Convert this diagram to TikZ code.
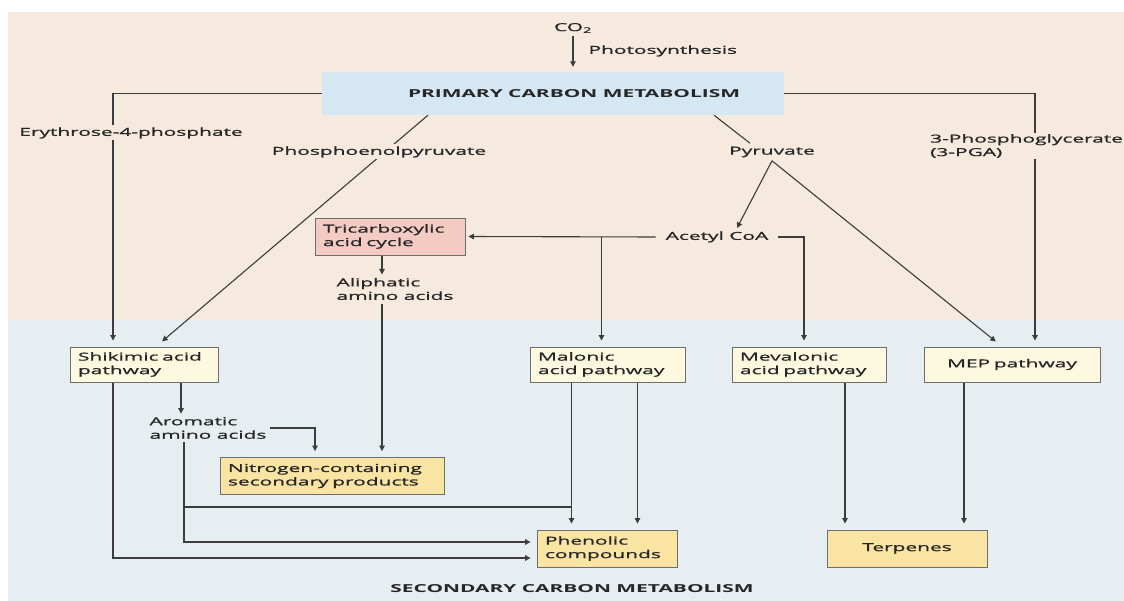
\documentclass[tikz,border=0pt]{standalone}
\usepackage{fontspec}
\setmainfont{Open Sans}[FakeStretch=1.9, UprightFeatures={FakeBold=1.2}]
\usetikzlibrary{arrows.meta,backgrounds}

\definecolor{peach}{HTML}{F6E9DD}
\definecolor{lowblue}{HTML}{E6EEF2}
\definecolor{primfill}{HTML}{D6E7F4}
\definecolor{cream}{HTML}{FDF8E0}
\definecolor{prodfill}{HTML}{F9E4A3}
\definecolor{tcafill}{HTML}{F3CBC2}
\definecolor{ink}{HTML}{3C3C3C}
\definecolor{edge}{HTML}{6E6E6E}
\definecolor{txt}{HTML}{262626}

\tikzset{
  every node/.style={font=\fontsize{11}{13.5}\selectfont, text=txt},
  line/.style={draw=ink, line width=1.1pt},
  tip/.style={-{Triangle[length=5.5pt,width=5.5pt]}},
  into/.style={tip, shorten >=6pt},
  pathbox/.style={draw=edge, fill=cream, line width=0.9pt, minimum height=35pt, inner xsep=8pt, align=left},
  prodbox/.style={pathbox, fill=prodfill, minimum height=37pt},
  heading/.style={font=\fontsize{11}{13.5}\selectfont\bfseries},
}

\begin{document}
\begin{tikzpicture}[x=1pt, y=-1pt]
\useasboundingbox (0,0) rectangle (1124,601);

% Primary metabolism
\node (co2) at (573,28) {CO\textsubscript{2}};
\node[anchor=west] (photo) at (585,51) {Photosynthesis};
\node[fill=primfill, minimum width=462pt, minimum height=43pt, heading] (prim) at (553,93.5) {\hspace*{42pt}PRIMARY CARBON METABOLISM};
\node[fill=peach, inner sep=2pt] (ery) at (131,133) {Erythrose-4-phosphate};
\node[fill=peach, inner sep=2pt] (pep) at (379,152) {Phosphoenolpyruvate};
\node (pyr) at (772,152) {Pyruvate};
\node[fill=peach, inner sep=1pt, anchor=west, align=left] (pga) at (929,146) {3-Phosphoglycerate\\(3-PGA)};
\node[inner xsep=10pt] (acetyl) at (717,237) {Acetyl CoA};
\node[pathbox, fill=tcafill, text width=134pt, minimum height=37pt] (tca) at (390,236.5) {Tricarboxylic\\acid cycle};
\node[align=left] (ali) at (395,289) {Aliphatic\\amino acids};

% Secondary metabolism
\node[pathbox, text width=132pt] (shik) at (144,364.5) {Shikimic acid\\pathway};
\node[pathbox, text width=139pt] (mal) at (607.5,364.5) {Malonic\\acid pathway};
\node[pathbox, text width=138pt] (mev) at (809,364.5) {Mevalonic\\acid pathway};
\node[pathbox, text width=160pt, align=center] (mep) at (1012,364.5) {MEP pathway};
\node[align=left] (aro) at (208,428) {Aromatic\\amino acids};
\node[prodbox, text width=208pt] (nit) at (332,476) {Nitrogen-containing\\secondary products};
\node[prodbox, text width=124pt] (phen) at (607,548.5) {Phenolic\\compounds};
\node[prodbox, text width=144pt, align=center] (terp) at (907,548.5) {Terpenes};
\node[heading] (sec) at (572,589) {SECONDARY CARBON METABOLISM};

% Points where lines leave the boxes
\coordinate (split) at (184,507);
\coordinate (malL) at ([xshift=-36pt]mal.south);
\coordinate (malR) at ([xshift=30pt]mal.south);
\coordinate (mevout) at ([xshift=36pt]mev.south);
\coordinate (mepout) at ([xshift=-48pt]mep.south);
\coordinate (tcaout) at ([xshift=-8pt]tca.south);
\coordinate (aliout) at ([xshift=-13pt]ali.south);
\coordinate (malin) at ([xshift=-6pt]mal.north);

\begin{scope}[on background layer]
\fill[peach] (8,12) rectangle (1124,320);
\fill[lowblue] (8,320) rectangle (1124,601);

% Connectors
\draw[line, tip, shorten >=5pt] (co2.south) -- (co2.south |- prim.north);
\draw[line, into] (prim.west) -| ([xshift=-31pt]shik.north);
\draw[line, into, shorten >=8pt] ([xshift=-125pt]prim.south) -- ([xshift=12pt]shik.north);
\draw[line] ([xshift=161pt]prim.south) -- ([xshift=-22pt]pyr.north);
\draw[line, tip] (pyr.south) -- ([xshift=20pt]acetyl.north);
\draw[line, into, shorten >=8pt] (pyr.south) -- ([xshift=-10pt]mep.north);
\draw[line, into] (prim.east) -| ([xshift=23pt]mep.north);
\draw[line, tip, shorten >=3pt] (acetyl.west) -- (tca.east);
\draw[line, into] (malin |- acetyl.west) -- (malin);
\draw[line, into] (acetyl.east) -| ([xshift=-5pt]mev.north);
\draw[line, tip] (tcaout) -- (tcaout |- ali.north);
\draw[line, into] (aliout) -- (aliout |- nit.north);
\draw[line, tip] ([xshift=37pt]shik.south) -- ([xshift=-27pt]aro.north);
\draw[line, into] (aro.east) -| ([xshift=-17pt]nit.north);
\draw[line, into] ([xshift=-24pt]aro.south) |- ([yshift=6.5pt]phen.west);
\draw[line] (split) -- (split -| malL);
\draw[line, into] ([xshift=-31pt]shik.south) |- ([yshift=-9.5pt]phen.west);
\draw[line, into] (malL) -- (malL |- phen.north);
\draw[line, into] (malR) -- (malR |- phen.north);
\draw[line, into] (mevout) -- (mevout |- terp.north);
\draw[line, into] (mepout) -- (mepout |- terp.north);
\end{scope}
\end{tikzpicture}
\end{document}
